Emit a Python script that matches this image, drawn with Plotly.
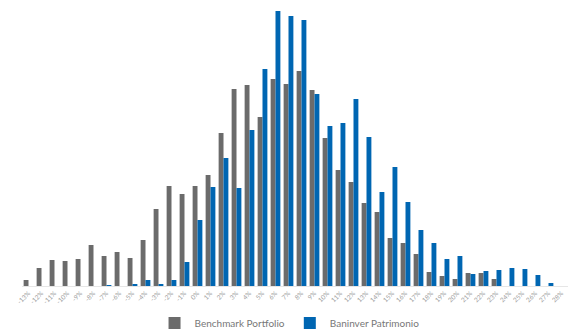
import plotly.graph_objects as go

categories = [f"{v}%" for v in range(-13, 29)]

benchmark = [6, 18, 26, 25, 27, 41, 30, 34, 28, 46, 77, 100, 92, 100, 111, 153, 197, 201,
             169, 207, 202, 215, 196, 148, 116, 104, 83, 74, 48, 43, 32, 14, 10, 7, 13, 13,
             7, 0, 0, 0, 0, 0]
baninver = [0, 0, 0, 0, 0, 0, 1, 0, 2, 6, 2, 6, 24, 66, 99, 128, 98, 156, 217, 275, 270,
            266, 192, 160, 163, 187, 149, 94, 119, 84, 56, 43, 27, 30, 12, 15, 16, 18, 17,
            11, 3, 0]

series_names = ["Benchmark Portfolio", "Baninver Patrimonio"]
colors = ["#6b6b6b", "#0066b2"]

fig = go.Figure()
for name, vals, col in zip(series_names, [benchmark, baninver], colors):
    fig.add_trace(go.Bar(x=categories, y=vals, name=name, marker_color=col,
                         marker_line_width=0))

fig.update_layout(
    width=579, height=331,
    margin=dict(l=22, r=11, t=10, b=45, autoexpand=False),
    paper_bgcolor="white", plot_bgcolor="white",
    barmode="group", bargap=0.25, bargroupgap=0,
    font=dict(family="Lato", color="#888888"),
    showlegend=True,
    legend=dict(orientation="h", x=0.49, xanchor="center", y=-0.134, yanchor="middle",
                font=dict(size=10, color="#777777"), itemwidth=30,
                traceorder="normal"),
    xaxis=dict(tickangle=-45, tickfont=dict(size=6.5, color="#a0a0a0"),
               showline=True, linecolor="#e6e6e6", linewidth=1, automargin=False,
               showgrid=False, ticks="", ticklen=0),
    yaxis=dict(visible=False, range=[0, 276], showgrid=False, automargin=False),
)

fig.write_html("out.html", config={"displayModeBar": False},
               post_script="document.body.style.margin='0';document.body.style.overflow='hidden';")
